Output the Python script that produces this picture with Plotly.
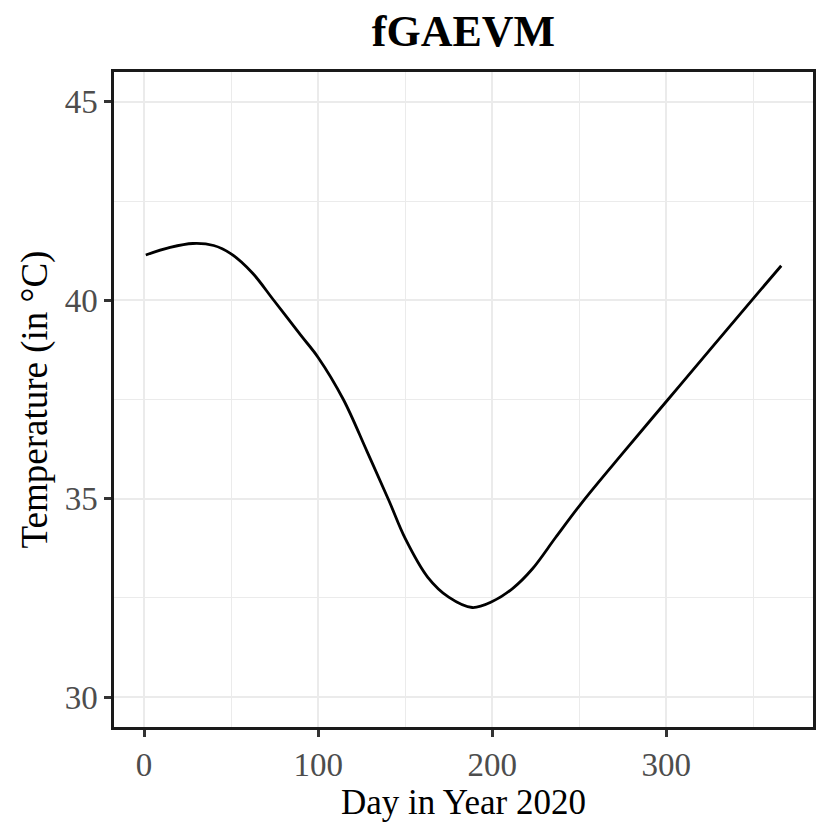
import plotly.graph_objects as go

# smoothed temperature curve
day = [1, 15, 28, 40, 50, 62, 74.5, 90, 100, 114.5, 128, 140.7, 150, 163,
       175, 188.5, 200, 212, 223, 236.5, 252, 275, 300, 325, 351, 366]
temp = [41.14, 41.33, 41.43, 41.38, 41.17, 40.7, 40.0, 39.12, 38.56, 37.5,
        36.2, 34.95, 34.0, 33.02, 32.52, 32.26, 32.41, 32.75, 33.23, 34.03,
        34.93, 36.15, 37.45, 38.75, 40.1, 40.87]

x_ticks = [0, 100, 200, 300]
y_ticks = [30, 35, 40, 45]

serif = "Liberation Serif, Times New Roman, serif"

fig = go.Figure()
fig.add_trace(go.Scatter(
    x=day, y=temp,
    mode="lines",
    line=dict(color="black", width=2.8, shape="spline", smoothing=1.0),
    showlegend=False,
))

axis_common = dict(
    showline=True, linecolor="#1a1a1a", linewidth=2.5, mirror=True,
    ticks="outside", ticklen=7, tickwidth=2.5, tickcolor="#333333",
    tickfont=dict(family=serif, size=33, color="#4D4D4D"),
    gridcolor="#EBEBEB", gridwidth=2.2, zeroline=False, automargin=False,
)

fig.update_xaxes(
    range=[-17.25, 384.25], tickvals=x_ticks,
    minor=dict(dtick=50, tick0=0, showgrid=True, gridcolor="#EBEBEB", gridwidth=1.1),
    title=dict(text="Day in Year 2020", font=dict(family=serif, size=35, color="black"),
               standoff=4),
    **axis_common,
)
fig.update_yaxes(
    range=[29.25, 45.75], tickvals=y_ticks,
    minor=dict(dtick=2.5, tick0=30, showgrid=True, gridcolor="#EBEBEB", gridwidth=1.1),
    title=dict(text="Temperature (in °C)", font=dict(family=serif, size=37, color="black"),
               standoff=6),
    **axis_common,
)

# page body adds an 8px offset, so the figure is a bit smaller than the window
fig.update_layout(
    width=822, height=822,
    paper_bgcolor="white", plot_bgcolor="white",
    title=dict(text="<b>fGAEVM</b>", x=0.5541, xanchor="center", y=0.972, yanchor="middle",
               font=dict(family=serif, size=44, color="black")),
    margin=dict(l=106, r=17, t=64, b=103),
)

fig.write_html("out.html")
